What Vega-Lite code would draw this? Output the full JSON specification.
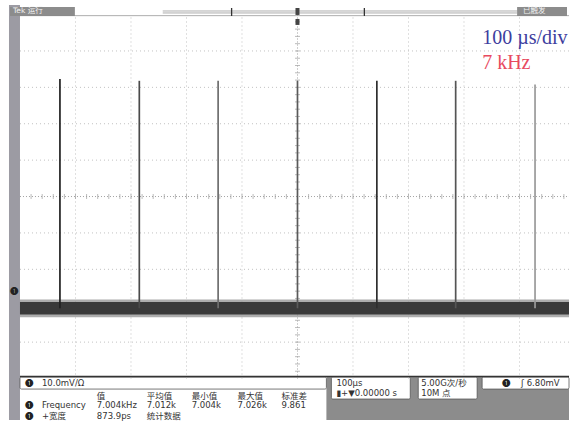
{
  "$schema": "https://vega.github.io/schema/vega-lite/v6.json",
  "width": 570,
  "height": 421,
  "autosize": {"type": "fit", "contains": "padding"},
  "padding": 0,
  "background": "white",
  "view": {"stroke": null},
  "config": {"font": "Liberation Sans"},
  "datasets": {
    "grayBar": [{"x1": -519.8, "x2": -500, "y1": 52.63, "y2": -61.4}],
    "darkPanels": [
      {"x1": 52.1, "x2": 489.2, "y1": -49.61, "y2": -61.4},
      {"x1": -518, "x2": -401.1, "y1": 52.08, "y2": 49.61},
      {"x1": 395.7, "x2": 485.6, "y1": 52.08, "y2": 49.61}
    ],
    "whiteBoxes": [
      {"x1": -500, "x2": 52.1, "y1": -49.61, "y2": -52.9},
      {"x1": 61.1, "x2": 203.2, "y1": -49.61, "y2": -55.64},
      {"x1": 217.6, "x2": 323.7, "y1": -49.61, "y2": -55.64},
      {"x1": 332.7, "x2": 489.2, "y1": -49.61, "y2": -52.9}
    ],
    "gridLines": [
      {"x1": -400, "x2": -400, "y1": -50, "y2": 50},
      {"x1": -300, "x2": -300, "y1": -50, "y2": 50},
      {"x1": -200, "x2": -200, "y1": -50, "y2": 50},
      {"x1": -100, "x2": -100, "y1": -50, "y2": 50},
      {"x1": 100, "x2": 100, "y1": -50, "y2": 50},
      {"x1": 200, "x2": 200, "y1": -50, "y2": 50},
      {"x1": 300, "x2": 300, "y1": -50, "y2": 50},
      {"x1": 400, "x2": 400, "y1": -50, "y2": 50},
      {"x1": -500, "x2": 489.2, "y1": -40, "y2": -40},
      {"x1": -500, "x2": 489.2, "y1": -30, "y2": -30},
      {"x1": -500, "x2": 489.2, "y1": -20, "y2": -20},
      {"x1": -500, "x2": 489.2, "y1": -10, "y2": -10},
      {"x1": -500, "x2": 489.2, "y1": 10, "y2": 10},
      {"x1": -500, "x2": 489.2, "y1": 20, "y2": 20},
      {"x1": -500, "x2": 489.2, "y1": 30, "y2": 30},
      {"x1": -500, "x2": 489.2, "y1": 40, "y2": 40}
    ],
    "centerLines": [
      {"x1": 0, "x2": 0, "y1": -50, "y2": 50},
      {"x1": -500, "x2": 489.2, "y1": 0, "y2": 0}
    ],
    "ticksX": [
      {"x1": -480, "y1": 0}, {"x1": -460, "y1": 0}, {"x1": -440, "y1": 0}, {"x1": -420, "y1": 0}, {"x1": -400, "y1": 0},
      {"x1": -380, "y1": 0}, {"x1": -360, "y1": 0}, {"x1": -340, "y1": 0}, {"x1": -320, "y1": 0}, {"x1": -300, "y1": 0},
      {"x1": -280, "y1": 0}, {"x1": -260, "y1": 0}, {"x1": -240, "y1": 0}, {"x1": -220, "y1": 0}, {"x1": -200, "y1": 0},
      {"x1": -180, "y1": 0}, {"x1": -160, "y1": 0}, {"x1": -140, "y1": 0}, {"x1": -120, "y1": 0}, {"x1": -100, "y1": 0},
      {"x1": -80, "y1": 0}, {"x1": -60, "y1": 0}, {"x1": -40, "y1": 0}, {"x1": -20, "y1": 0},
      {"x1": 20, "y1": 0}, {"x1": 40, "y1": 0}, {"x1": 60, "y1": 0}, {"x1": 80, "y1": 0}, {"x1": 100, "y1": 0},
      {"x1": 120, "y1": 0}, {"x1": 140, "y1": 0}, {"x1": 160, "y1": 0}, {"x1": 180, "y1": 0}, {"x1": 200, "y1": 0},
      {"x1": 220, "y1": 0}, {"x1": 240, "y1": 0}, {"x1": 260, "y1": 0}, {"x1": 280, "y1": 0}, {"x1": 300, "y1": 0},
      {"x1": 320, "y1": 0}, {"x1": 340, "y1": 0}, {"x1": 360, "y1": 0}, {"x1": 380, "y1": 0}, {"x1": 400, "y1": 0},
      {"x1": 420, "y1": 0}, {"x1": 440, "y1": 0}, {"x1": 460, "y1": 0}, {"x1": 480, "y1": 0}
    ],
    "ticksY": [
      {"x1": 0, "y1": -48}, {"x1": 0, "y1": -46}, {"x1": 0, "y1": -44}, {"x1": 0, "y1": -42}, {"x1": 0, "y1": -40},
      {"x1": 0, "y1": -38}, {"x1": 0, "y1": -36}, {"x1": 0, "y1": -34}, {"x1": 0, "y1": -32}, {"x1": 0, "y1": -30},
      {"x1": 0, "y1": -28}, {"x1": 0, "y1": -26}, {"x1": 0, "y1": -24}, {"x1": 0, "y1": -22}, {"x1": 0, "y1": -20},
      {"x1": 0, "y1": -18}, {"x1": 0, "y1": -16}, {"x1": 0, "y1": -14}, {"x1": 0, "y1": -12}, {"x1": 0, "y1": -10},
      {"x1": 0, "y1": -8}, {"x1": 0, "y1": -6}, {"x1": 0, "y1": -4}, {"x1": 0, "y1": -2},
      {"x1": 0, "y1": 2}, {"x1": 0, "y1": 4}, {"x1": 0, "y1": 6}, {"x1": 0, "y1": 8}, {"x1": 0, "y1": 10},
      {"x1": 0, "y1": 12}, {"x1": 0, "y1": 14}, {"x1": 0, "y1": 16}, {"x1": 0, "y1": 18}, {"x1": 0, "y1": 20},
      {"x1": 0, "y1": 22}, {"x1": 0, "y1": 24}, {"x1": 0, "y1": 26}, {"x1": 0, "y1": 28}, {"x1": 0, "y1": 30},
      {"x1": 0, "y1": 32}, {"x1": 0, "y1": 34}, {"x1": 0, "y1": 36}, {"x1": 0, "y1": 38}, {"x1": 0, "y1": 40},
      {"x1": 0, "y1": 42}, {"x1": 0, "y1": 44}, {"x1": 0, "y1": 46}, {"x1": 0, "y1": 48}
    ],
    "frameLines": [
      {"x1": -500, "x2": 489.2, "y1": -49.45, "y2": -49.45},
      {"x1": -118.7, "x2": -118.7, "y1": 51.81, "y2": 49.61},
      {"x1": 120.5, "x2": 120.5, "y1": 51.81, "y2": 49.61}
    ],
    "thinLines": [
      {"x1": -242.8, "x2": 395.7, "y1": 50.98, "y2": 50.98},
      {"x1": -242.8, "x2": 395.7, "y1": 50.44, "y2": 50.44},
      {"x1": -500, "x2": 489.2, "y1": 49.7, "y2": 49.7}
    ],
    "trigMarks": [
      {"x1": -3.6, "x2": 3.6, "y1": 51.81, "y2": 49.89},
      {"x1": -3.6, "x2": 3.6, "y1": 48.79, "y2": 47.15}
    ],
    "noiseFringe": [{"x1": -500, "x2": 489.2, "y1": -28.3, "y2": -33.2}],
    "noiseCore": [{"x1": -500, "x2": 489.2, "y1": -29.0, "y2": -32.4}],
    "pulses": [
      {"pulse": "P1", "x1": -428, "y1": -30.7, "y2": 32.3},
      {"pulse": "P2", "x1": -285, "y1": -30.7, "y2": 31.8},
      {"pulse": "P3", "x1": -143, "y1": -30.7, "y2": 31.8},
      {"pulse": "P4", "x1": 0, "y1": -30.7, "y2": 31.8},
      {"pulse": "P5", "x1": 143, "y1": -30.7, "y2": 31.8},
      {"pulse": "P6", "x1": 285, "y1": -30.7, "y2": 31.8},
      {"pulse": "P7", "x1": 428, "y1": -30.7, "y2": 30.8}
    ],
    "annBlue": [{"x1": 332.7, "y1": 43.6, "label": "100 µs/div"}],
    "annRed": [{"x1": 332.7, "y1": 36.7, "label": "7 kHz"}],
    "circles": [
      {"x1": -491, "y1": -51.26, "label": "❶"},
      {"x1": -491, "y1": -57.4, "label": "❶"},
      {"x1": -491, "y1": -60.3, "label": "❶"},
      {"x1": 368.7, "y1": -51.26, "label": "❶"},
      {"x1": -518.0, "y1": -26.04, "label": "❶"}
    ],
    "panelText": [
      {"x1": -460.5, "y1": -51.26, "label": "10.0mV/Ω"},
      {"x1": -361.5, "y1": -54.82, "label": "值"},
      {"x1": -271.6, "y1": -54.82, "label": "平均值"},
      {"x1": -190.7, "y1": -54.82, "label": "最小值"},
      {"x1": -107.9, "y1": -54.82, "label": "最大值"},
      {"x1": -28.8, "y1": -54.82, "label": "标准差"},
      {"x1": -460.5, "y1": -57.4, "label": "Frequency"},
      {"x1": -361.5, "y1": -57.4, "label": "7.004kHz"},
      {"x1": -271.6, "y1": -57.4, "label": "7.012k"},
      {"x1": -190.7, "y1": -57.4, "label": "7.004k"},
      {"x1": -107.9, "y1": -57.4, "label": "7.026k"},
      {"x1": -28.8, "y1": -57.4, "label": "9.861"},
      {"x1": -460.5, "y1": -60.3, "label": "+宽度"},
      {"x1": -361.5, "y1": -60.3, "label": "873.9ps"},
      {"x1": -271.6, "y1": -60.3, "label": "统计数据"},
      {"x1": 70.1, "y1": -51.26, "label": "100µs"},
      {"x1": 70.1, "y1": -54.0, "label": "▮+▼0.00000 s"},
      {"x1": 223.0, "y1": -51.26, "label": "5.00G次/秒"},
      {"x1": 223.0, "y1": -54.0, "label": "10M 点"},
      {"x1": 402.9, "y1": -51.26, "label": "ʃ 6.80mV"}
    ],
    "whiteText": [
      {"x1": -512.6, "y1": 50.85, "label": "Tek 运行"},
      {"x1": 406.5, "y1": 50.85, "label": "已触发"}
    ]
  },
  "encoding": {
    "x": {"field": "x1", "type": "quantitative", "scale": {"domain": [-536, 489.2], "nice": false, "zero": false}, "axis": null},
    "y": {"field": "y1", "type": "quantitative", "scale": {"domain": [-61.4, 54], "nice": false, "zero": false}, "axis": null}
  },
  "layer": [
    {"data": {"name": "grayBar"}, "mark": {"type": "rect", "color": "#9c9ba3"},
     "encoding": {"x2": {"field": "x2"}, "y2": {"field": "y2"}}},
    {"data": {"name": "darkPanels"}, "mark": {"type": "rect", "color": "#8c8c8c"},
     "encoding": {"x2": {"field": "x2"}, "y2": {"field": "y2"}}},
    {"data": {"name": "whiteBoxes"}, "mark": {"type": "rect", "fill": "white", "stroke": "#555", "strokeWidth": 0.8, "cornerRadius": 1.5},
     "encoding": {"x2": {"field": "x2"}, "y2": {"field": "y2"}}},
    {"data": {"name": "gridLines"}, "mark": {"type": "rule", "color": "#c0c0c0", "strokeWidth": 1, "strokeDash": [1, 3]},
     "encoding": {"x2": {"field": "x2"}, "y2": {"field": "y2"}}},
    {"data": {"name": "centerLines"}, "mark": {"type": "rule", "color": "#a0a0a0", "strokeWidth": 1, "strokeDash": [1, 2]},
     "encoding": {"x2": {"field": "x2"}, "y2": {"field": "y2"}}},
    {"data": {"name": "ticksX"}, "mark": {"type": "tick", "orient": "vertical", "size": 5, "thickness": 1, "color": "#a0a0a0"}},
    {"data": {"name": "ticksY"}, "mark": {"type": "tick", "orient": "horizontal", "size": 5, "thickness": 1, "color": "#a0a0a0"}},
    {"data": {"name": "thinLines"}, "mark": {"type": "rule", "color": "#8a8a8a", "strokeWidth": 0.7},
     "encoding": {"x2": {"field": "x2"}, "y2": {"field": "y2"}}},
    {"data": {"name": "frameLines"}, "mark": {"type": "rule", "color": "#333", "strokeWidth": 1.3},
     "encoding": {"x2": {"field": "x2"}, "y2": {"field": "y2"}}},
    {"data": {"name": "trigMarks"}, "mark": {"type": "rect", "color": "#444"},
     "encoding": {"x2": {"field": "x2"}, "y2": {"field": "y2"}}},
    {"data": {"name": "noiseFringe"}, "mark": {"type": "rect", "color": "#8a8a8a", "opacity": 0.7},
     "encoding": {"x2": {"field": "x2"}, "y2": {"field": "y2"}}},
    {"data": {"name": "noiseCore"}, "mark": {"type": "rect", "color": "#3a3a3a"},
     "encoding": {"x2": {"field": "x2"}, "y2": {"field": "y2"}}},
    {"data": {"name": "pulses"}, "mark": {"type": "rule", "strokeWidth": 1.7},
     "encoding": {
       "y2": {"field": "y2"},
       "stroke": {"field": "pulse", "type": "nominal", "legend": null,
         "scale": {"domain": ["P1", "P2", "P3", "P4", "P5", "P6", "P7"],
                   "range": ["#222222", "#4a4a4a", "#6e6e6e", "#5a5a5a", "#2e2e2e", "#555555", "#9a9a9a"]}}
     }},
    {"data": {"name": "annBlue"}, "mark": {"type": "text", "align": "left", "baseline": "middle", "font": "Liberation Serif", "fontSize": 20, "color": "#3d3d9e"},
     "encoding": {"text": {"field": "label"}}},
    {"data": {"name": "annRed"}, "mark": {"type": "text", "align": "left", "baseline": "middle", "font": "Liberation Serif", "fontSize": 20, "color": "#e84a5f"},
     "encoding": {"text": {"field": "label"}}},
    {"data": {"name": "circles"}, "mark": {"type": "text", "align": "left", "baseline": "middle", "font": "Noto Sans CJK SC", "fontSize": 8.5, "color": "#222"},
     "encoding": {"text": {"field": "label"}}},
    {"data": {"name": "panelText"}, "mark": {"type": "text", "align": "left", "baseline": "middle", "font": "DejaVu Sans, Noto Sans CJK SC", "fontSize": 8.5, "color": "#333"},
     "encoding": {"text": {"field": "label"}}},
    {"data": {"name": "whiteText"}, "mark": {"type": "text", "align": "left", "baseline": "middle", "font": "DejaVu Sans, Noto Sans CJK SC", "fontSize": 7.5, "color": "#f2f2f2"},
     "encoding": {"text": {"field": "label"}}}
  ]
}
